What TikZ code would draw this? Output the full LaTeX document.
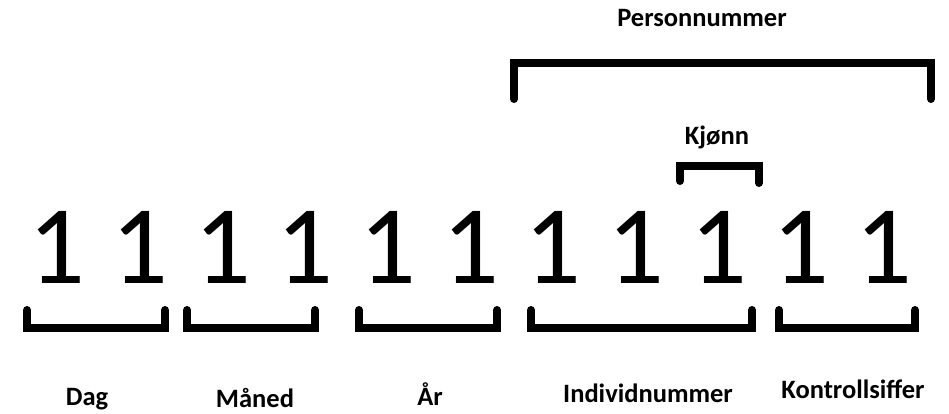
\documentclass[tikz,border=0pt]{standalone}
\usepackage{fontspec}
\setmainfont{Carlito}
\begin{document}
\begin{tikzpicture}[x=1pt,y=-1pt,
  digit/.style={anchor=base,inner sep=0pt,font=\fontsize{112}{112}\selectfont},
  lbl/.style={anchor=base,inner sep=0pt,font=\fontsize{26.5}{26.5}\selectfont\bfseries},
  brk/.style={line width=8pt,line cap=round,line join=miter}]
\useasboundingbox[fill=white] (0,0) rectangle (949,413);
\foreach \k in {0,...,10}{
  \node[digit] (d\k) at ({57+82.7*\k},283) {1};
}
% bottom brackets
\coordinate (b1a) at (27,310); \coordinate (b1b) at (165,310);
\coordinate (b2a) at (187,310); \coordinate (b2b) at (315,310);
\coordinate (b3a) at (359,310); \coordinate (b3b) at (497,310);
\coordinate (b4a) at (531,310); \coordinate (b4b) at (752,310);
\coordinate (b5a) at (779,310); \coordinate (b5b) at (915,310);
\foreach \i in {1,...,5}{
  \draw[brk] (b\i a) -- ++(0,18) -| (b\i b);
}
% top brackets
\coordinate (pa) at (514,99); \coordinate (pb) at (931,99);
\draw[brk] (pa) |- (722,63) -| (pb);
\coordinate (ka) at (680,181); \coordinate (kb) at (759,183);
\draw[brk] (ka) |- (720,166) -| (kb);
% labels
\node[lbl] (dag) at (87,405) {Dag};
\node[lbl] (maaned) at (255,407) {Måned};
\node[lbl] (aar) at (430,405) {År};
\node[lbl] (indiv) at (648,402) {Individnummer};
\node[lbl] (kontroll) at (853,398) {Kontrollsiffer};
\node[lbl] (person) at (702,26) {Personnummer};
\node[lbl] (kjonn) at (717,144) {Kjønn};
\end{tikzpicture}
\end{document}
